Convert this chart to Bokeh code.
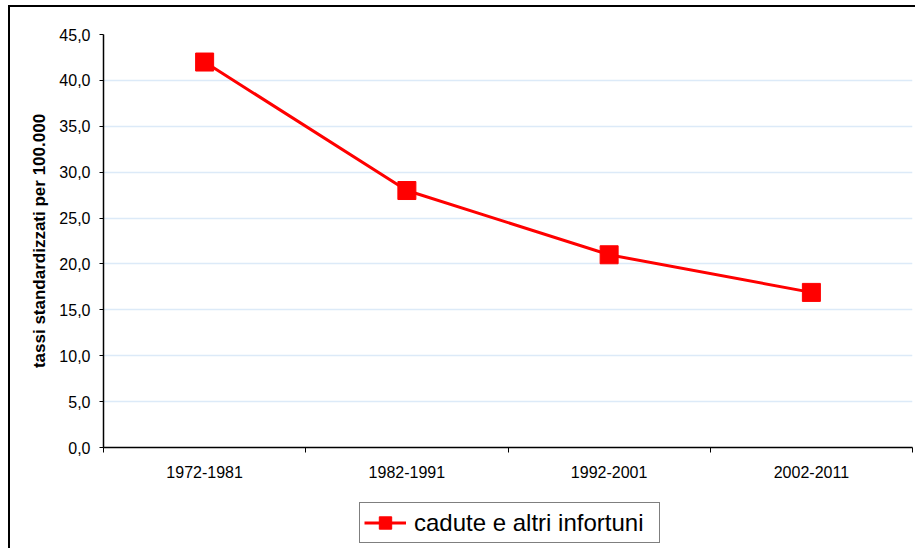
from bokeh.plotting import figure
from bokeh.layouts import column
from bokeh.models import Range1d, FixedTicker, Legend, LegendItem, InlineStyleSheet, ColumnDataSource
from bokeh.embed import file_html
from bokeh.resources import INLINE

categories = ["1972-1981", "1982-1991", "1992-2001", "2002-2011"]
values = [42.0, 28.0, 21.0, 16.9]
series_name = "cadute e altri infortuni"
y_ticks = [0, 5, 10, 15, 20, 25, 30, 35, 40, 45]
y_tick_labels = ["0,0", "5,0", "10,0", "15,0", "20,0", "25,0", "30,0", "35,0", "40,0", "45,0"]
y_title = "tassi standardizzati per 100.000"

FONT = "Liberation Sans"
RED = "#FF0000"

xs = [i + 0.5 for i in range(len(categories))]
boundaries = list(range(len(categories) + 1))
src = ColumnDataSource(data=dict(x=xs, y=values, cat=categories))

p = figure(width=905, height=480, output_backend="svg", toolbar_location=None,
           x_range=Range1d(0, len(categories)), y_range=Range1d(y_ticks[0], y_ticks[-1]),
           min_border_left=93, min_border_right=3, min_border_top=27, min_border_bottom=40)
p.outline_line_color = None
p.background_fill_color = "white"
p.border_fill_color = "white"

r_line = p.line("x", "y", source=src, line_color=RED, line_width=3)
r_pts = p.scatter("x", "y", source=src, marker="square", size=18, fill_color=RED, line_color=RED)

# x axis
xa = p.xaxis[0]
xa.ticker = FixedTicker(ticks=xs, minor_ticks=boundaries)
xa.major_label_overrides = {x: c for x, c in zip(xs, categories)}
xa.major_tick_line_color = None
xa.major_tick_out = 0
xa.major_tick_in = 0
xa.minor_tick_line_color = "#000000"
xa.minor_tick_out = 5
xa.minor_tick_in = 0
xa.axis_line_color = "#000000"
xa.axis_line_width = 1.5
xa.major_label_text_font = FONT
xa.major_label_text_font_size = "16px"
xa.major_label_text_color = "#000000"
xa.major_label_standoff = 13

# y axis
ya = p.yaxis[0]
ya.ticker = FixedTicker(ticks=y_ticks, minor_ticks=[])
ya.major_label_overrides = {t: l for t, l in zip(y_ticks, y_tick_labels)}
ya.major_tick_line_color = "#000000"
ya.major_tick_out = 4
ya.major_tick_in = 0
ya.axis_line_color = "#000000"
ya.axis_line_width = 1.5
ya.major_label_text_font = FONT
ya.major_label_text_font_size = "16px"
ya.major_label_text_color = "#000000"
ya.major_label_standoff = 9
ya.axis_label = y_title
ya.axis_label_text_font = FONT
ya.axis_label_text_font_size = "17px"
ya.axis_label_text_font_style = "bold"
ya.axis_label_text_color = "#000000"
ya.axis_label_standoff = 7

p.xgrid.grid_line_color = None
p.ygrid.ticker = FixedTicker(ticks=y_ticks)
p.ygrid.grid_line_color = "#DCEAF8"
p.ygrid.grid_line_width = 1.5

# legend strip below the chart (same series, kept outside this strip's visible range)
p2 = figure(width=905, height=61, output_backend="svg", toolbar_location=None,
            x_axis_location=None, y_axis_location=None,
            x_range=Range1d(0, len(categories)), y_range=Range1d(-2, -1),
            min_border_left=0, min_border_right=0, min_border_top=0, min_border_bottom=0)
p2.outline_line_color = None
p2.grid.visible = False
p2.background_fill_color = "white"
p2.border_fill_color = "white"
l_line = p2.line("x", "y", source=src, line_color=RED, line_width=3)
l_pts = p2.scatter("x", "y", source=src, marker="square", size=18, fill_color=RED, line_color=RED)

legend = Legend(items=[LegendItem(label=series_name, renderers=[l_line, l_pts])],
                location=(256, 5))
legend.label_text_font = FONT
legend.label_text_font_size = "24px"
legend.label_text_color = "#000000"
legend.glyph_width = 42
legend.glyph_height = 31
legend.padding = 4
legend.label_standoff = 8
legend.label_width = 241
legend.border_line_color = "#000000"
legend.border_line_width = 1
legend.background_fill_color = "white"
legend.background_fill_alpha = 1
legend.margin = 0
p2.add_layout(legend, "center")

layout = column(p, p2, spacing=0)
layout.stylesheets = [InlineStyleSheet(css=":host { margin: 5px 0 0 8px; border-left: 2px solid #000; border-top: 2px solid #000; }")]

open("out.html", "w").write(file_html(layout, INLINE))
